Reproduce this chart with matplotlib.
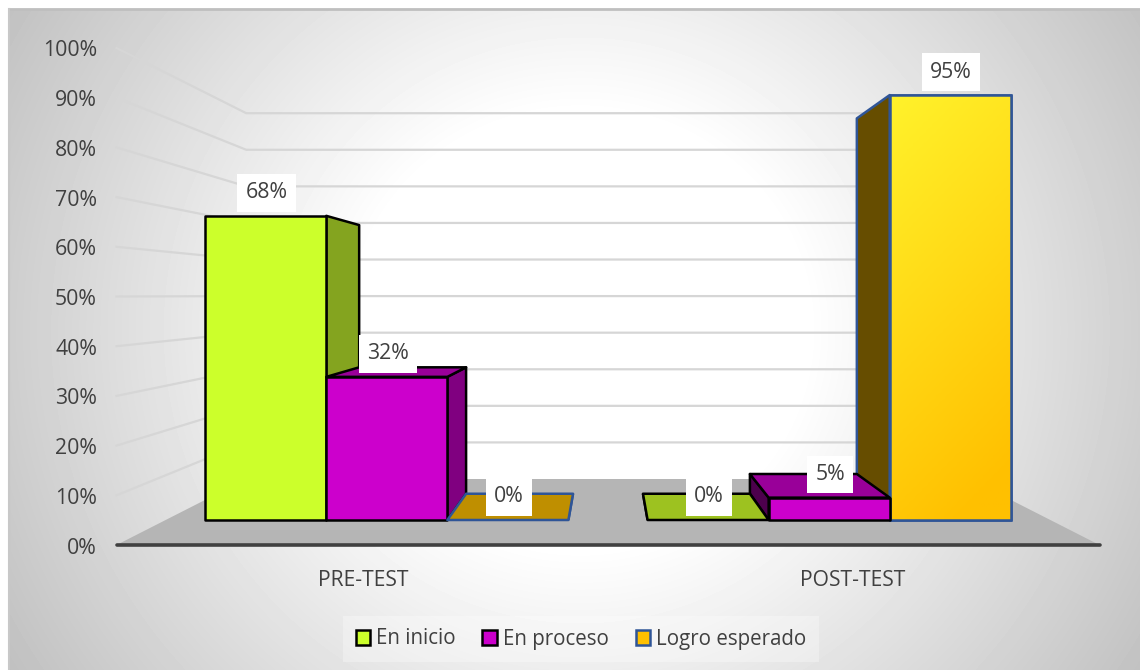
import matplotlib
matplotlib.use('Agg')
import matplotlib.pyplot as plt
from matplotlib.patches import Patch, Polygon
import numpy as np

categories = ['PRE-TEST', 'POST-TEST']
series_names = ['En inicio', 'En proceso', 'Logro esperado']
en_inicio = [68, 0]
en_proceso = [32, 5]
logro_esperado = [0, 95]
y_ticks = [0, 10, 20, 30, 40, 50, 60, 70, 80, 90, 100]

# front, side, top colours and edge of each series
front_colors = ['#CCFF2B', '#CC00CC', '#FFC000']
side_colors = ['#84A41F', '#800080', '#664D00']
left_side_colors = ['#84A41F', '#4D004D', '#664D00']
top_colors = ['#9DC220', '#990099', '#BF8F00']
edge_colors = ['black', 'black', '#2F5597']

plt.rcParams['font.family'] = ['Open Sans', 'DejaVu Sans']
TEXT = '#404040'

# perspective scale of the 3D chart
VX, VY = 608, 295      # vanishing point
BASE, UNIT = 545, 4.97 # y of 0% and pixels per 1% at the front of the floor
HALF_W = 491.5         # half width of the floor
S_WALL = 0.736
S_FRONT = 0.90         # depth of bar front
S_BACK = 0.795         # depth of bar back
BAR_W = 134.5


def project(x, v, s):
    return VX + s * x, VY + s * (BASE - VY - UNIT * v)


fig = plt.figure(figsize=(11.4, 6.7), dpi=100)
ax = fig.add_axes([0, 0, 1, 1])

# background gradient
xx, yy = np.meshgrid(np.arange(9, 1140), np.arange(9, 670))
r = np.sqrt(((xx - 580) / 540) ** 2 + ((yy - 330) / 520) ** 2)
shade = 255 - 65 * np.clip((r - 0.42) / 0.85, 0, 1)
ax.imshow(shade, cmap='gray', vmin=0, vmax=255, extent=(9, 1140, 670, 9), aspect='auto', zorder=0)
ax.plot([9, 1140], [9, 9], color='#BFBFBF', lw=2, zorder=1)
ax.plot([9, 9], [9, 670], color='#C8C8C8', lw=1.5, zorder=1)

# floor
floor = [project(-HALF_W, 0, 1), project(HALF_W, 0, 1), project(HALF_W, 0, S_WALL), project(-HALF_W, 0, S_WALL)]
ax.add_patch(Polygon(floor, closed=True, fc='#B5B5B5', ec='none', zorder=2))

# gridlines on side wall and back wall, tick labels at the front
for t in y_ticks:
    p0 = project(-HALF_W, t, 1)
    p1 = project(-HALF_W, t, S_WALL)
    p2 = project(HALF_W, t, S_WALL)
    if t > 0:
        ax.plot([p0[0], p1[0], p2[0]], [p0[1], p1[1], p2[1]], color='#D6D6D6', lw=1.6, zorder=2, solid_joinstyle='round')
    ax.text(97, p0[1] + 3, '%d%%' % t, ha='right', va='center', fontsize=15.3, color=TEXT, zorder=6)
ax.plot([floor[0][0], floor[1][0]], [floor[0][1], floor[1][1]], color='#404040', lw=2.6, solid_capstyle='round', zorder=3)


def draw_bar(x0, v, i, z):
    x1 = x0 + BAR_W
    kw = dict(closed=True, ec=edge_colors[i], lw=1.8, joinstyle='round', zorder=z)
    # side faces
    if x1 < 0:
        side = [project(x1, 0, S_FRONT), project(x1, v, S_FRONT), project(x1, v, S_BACK), project(x1, 0, S_BACK)]
        ax.add_patch(Polygon(side, fc=side_colors[i], **kw))
    if x0 > 0:
        side = [project(x0, 0, S_FRONT), project(x0, v, S_FRONT), project(x0, v, S_BACK), project(x0, 0, S_BACK)]
        ax.add_patch(Polygon(side, fc=left_side_colors[i], **kw))
    # top face only shows below the vanishing point
    if project(x0, v, S_FRONT)[1] > VY:
        top = [project(x0, v, S_FRONT), project(x1, v, S_FRONT), project(x1, v, S_BACK), project(x0, v, S_BACK)]
        ax.add_patch(Polygon(top, fc=top_colors[i], **kw))
    # front face
    if v > 0:
        front = [project(x0, 0, S_FRONT), project(x1, 0, S_FRONT), project(x1, v, S_FRONT), project(x0, v, S_FRONT)]
        patch = Polygon(front, fc=front_colors[i], **kw)
        ax.add_patch(patch)
        if i == 2:
            # yellow to orange fill on the tall bar
            h, w = 64, 64
            gy, gx = np.mgrid[0:1:h * 1j, 0:1:w * 1j]
            g = np.clip(0.85 * gy + 0.25 * gx, 0, 1)
            c0 = np.array([255, 242, 43]) / 255
            c1 = np.array([255, 192, 0]) / 255
            img = c0 + (c1 - c0) * g[..., None]
            xs = [p[0] for p in front]
            ys = [p[1] for p in front]
            im = ax.imshow(img, extent=(min(xs), max(xs), max(ys), min(ys)), aspect='auto', zorder=z + 0.01)
            im.set_clip_path(patch)
            ax.add_patch(Polygon(front, fc='none', ec=edge_colors[i], lw=1.8, zorder=z + 0.02))
    # value label
    px = project(x0 + BAR_W / 2, v, S_FRONT)
    ax.text(px[0] + 1, px[1] - 23, '%d%%' % v, ha='center', va='center', fontsize=15.3, color=TEXT, zorder=7,
            bbox=dict(fc='white', ec='none', pad=6))


values = [en_inicio, en_proceso, logro_esperado]
for c, name in enumerate(categories):
    center = (c - 0.5) * HALF_W
    # the bar nearest the vanishing point goes last in each group
    order = [0, 1, 2] if c == 0 else [2, 1, 0]
    for z, i in enumerate(order):
        draw_bar(center + (i - 1.5) * BAR_W, values[i][c], i, 4 + z * 0.1)
    ax.text(VX + center * 0.995, 580, name, ha='center', va='center', fontsize=15.2, color=TEXT, zorder=6)

# legend
handles = [Patch(fc=front_colors[i], ec=edge_colors[i], lw=1.8) for i in range(3)]
leg = ax.legend(handles, series_names, loc='center', bbox_to_anchor=(581 / 1140, 1 - 639 / 670), ncol=3,
                fontsize=14.8, frameon=True, framealpha=0.3, facecolor='white', edgecolor='none', fancybox=False,
                handlelength=0.7, handleheight=0.7, handletextpad=0.3, columnspacing=1.3, labelcolor=TEXT,
                borderpad=0.6)
leg.set_zorder(8)

ax.set_xlim(0, 1140)
ax.set_ylim(670, 0)
ax.axis('off')
fig.savefig('out.png', dpi=100, facecolor='white')
